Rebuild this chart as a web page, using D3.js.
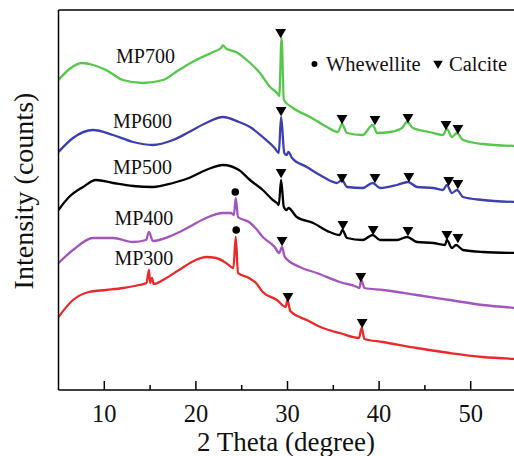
<!DOCTYPE html>
<html>
<head>
<meta charset="utf-8">
<script src="https://cdn.jsdelivr.net/npm/d3@7/dist/d3.min.js"></script>
<style>
  html, body { margin: 0; padding: 0; background: #fff; }
  svg { display: block; }
  text { font-family: "Liberation Serif", "Times New Roman", serif; fill: #111; }
</style>
</head>
<body>
<svg id="chart" width="514" height="456"></svg>
<script>
// XRD patterns: [2θ (degree), intensity (counts, stacked offset)]
const mp700 = [[5.0,310],[6.2,321],[7.57,327],[8.8,325],[10.19,320],[12.04,310],[14.22,307],[16.4,310],[18.15,320],[20.01,330],[21.87,338],[22.74,342],[22.96,344.5],[23.29,341.5],[24.38,338],[25.8,328],[27.0,317],[28.1,303],[28.85,297],[29.1,294],[29.35,352],[29.6,290],[30.6,282],[32.46,273],[34.3,263],[35.5,258],[35.95,266],[36.5,257],[38.2,255],[39.3,265],[39.8,257],[41.2,258],[42.5,262],[43.05,268],[43.7,262],[45.5,258],[46.97,255],[47.4,261],[47.95,253],[48.5,257],[49.16,250],[51.3,246],[55.0,244]];
const mp600 = [[5.0,238],[6.58,252],[8.77,260],[10.95,255],[13.13,248],[15.3,245],[17.5,250],[19.25,258],[21.1,267],[22.96,273],[24.7,268],[25.9,263],[27.3,253],[28.6,242],[29.05,237],[29.3,273],[29.65,237],[29.9,235],[30.1,238],[30.5,232],[32.1,223],[33.9,213],[35.4,207],[35.95,210],[36.5,203],[38.2,202],[39.3,207],[40.1,202],[41.95,205],[43.15,208],[44.15,203],[45.9,202],[46.97,200],[47.4,205],[47.95,197],[48.5,200],[49.16,193],[51.3,190],[55.0,188]];
const mp500 = [[5.0,180],[6.15,193],[7.67,203],[9.09,210],[10.95,207],[13.13,204],[15.3,203],[17.5,207],[19.25,212],[21.1,220],[22.96,225],[24.7,220],[25.9,210],[27.3,200],[28.4,190],[28.85,187],[29.05,185],[29.3,210],[29.6,183],[29.9,180],[30.1,182],[31.0,173],[32.8,167],[34.6,158],[35.7,155],[36.0,160],[36.5,152],[38.2,150],[39.3,155],[40.1,150],[41.95,150],[43.05,153],[44.15,148],[45.9,147],[47.2,145],[47.4,150],[47.95,142],[48.4,145],[49.16,140],[51.3,138],[55.0,137]];
const mp400 = [[5.0,127],[6.58,140],[8.77,152],[10.95,152],[13.13,148],[14.55,150],[14.88,158],[15.3,149],[17.5,155],[19.25,163],[21.1,172],[22.96,177],[23.83,177],[24.15,175],[24.35,192],[24.6,173],[25.8,168],[26.5,162],[27.3,153],[28.6,143],[29.1,137],[29.4,143],[29.7,133],[31.35,123],[33.2,117],[35.7,108],[37.6,103],[37.85,102],[38.05,110],[38.4,102],[40.4,100],[44.1,95],[47.7,90],[51.3,85],[55.0,82]];
const mp300 = [[5.0,73],[6.58,90],[8.33,98],[10.19,100],[12.04,102],[13.79,105],[14.6,107],[14.88,120],[15.0,107],[15.2,112],[15.4,106],[16.4,110],[18.15,120],[20.0,130],[21.1,133],[22.2,132],[23.3,127],[24.1,122],[24.35,153],[24.6,117],[25.8,112],[26.56,107],[27.3,98],[28.85,90],[29.8,83],[30.0,90],[30.3,79],[32.1,70],[33.85,62],[35.7,57],[37.8,52],[38.1,62],[38.4,51],[40.4,48],[44.1,42],[47.7,37],[51.3,33],[55.0,31]];

const seriesNames = ["MP700", "MP600", "MP500", "MP400", "MP300"];
const seriesColors = ["#55c84b", "#3b3fb0", "#000000", "#a355bd", "#ea2a2a"];
// label anchors [2θ, intensity]
const labelPos = [[11.28,327],[10.95,262],[10.95,216],[11.1,165],[11.1,125]];

// peak markers [2θ, intensity]
const calciteMarks = [[29.25,358],[35.95,272],[39.55,271],[43.15,273],[47.3,266],[48.6,262],
                      [29.3,280],[35.95,213],[39.55,213],[43.25,214],[47.6,210],[48.6,207],
                      [29.3,218],[36.05,166],[39.35,161],[43.15,160],[47.4,156],[48.6,153],
                      [29.4,150],[38.0,114],
                      [30.05,94],[38.15,68]];
const whewelliteMarks = [[24.3,198],[24.4,160]];

const xTicks = [10, 20, 30, 40, 50];
const xMinorTicks = [15, 25, 35, 45];
const xLabel = "2 Theta (degree)";
const yLabel = "Intensity (counts)";
const legendItems = ["Whewellite", "Calcite"];

(function draw() {
  const svg = d3.select("#chart");
  const W = 514;
  const mLeft = 58.5, mTop = 10, mBottom = 390;

  const x = d3.scaleLinear().domain([5, 55]).range([mLeft, mLeft + 50 * 9.16]);
  const y = d3.scaleLinear().domain([0, 380]).range([mBottom, mTop]);

  svg.append("defs").append("clipPath").attr("id", "plotClip")
    .append("rect").attr("x", mLeft).attr("y", mTop).attr("width", W - mLeft).attr("height", mBottom - mTop);

  // traces
  const line = d3.line().x(d => x(d[0])).y(d => y(d[1])).curve(d3.curveMonotoneX);
  const allSeries = [mp700, mp600, mp500, mp400, mp300];
  const plot = svg.append("g").attr("clip-path", "url(#plotClip)");
  plot.selectAll("path.trace").data(allSeries).join("path")
    .attr("class", "trace")
    .attr("d", line)
    .attr("fill", "none")
    .attr("stroke", (d, i) => seriesColors[i])
    .attr("stroke-width", 2.3)
    .attr("stroke-linejoin", "round");

  // series labels
  svg.selectAll("text.series").data(seriesNames).join("text")
    .attr("class", "series")
    .attr("x", (d, i) => x(labelPos[i][0]))
    .attr("y", (d, i) => y(labelPos[i][1]))
    .attr("font-size", 20)
    .text(d => d);

  // peak markers
  const tri = d3.symbol().type(d3.symbolTriangle).size(50);
  svg.selectAll("path.calcite").data(calciteMarks).join("path")
    .attr("class", "calcite")
    .attr("d", tri)
    .attr("transform", d => `translate(${x(d[0])},${y(d[1])}) rotate(180)`)
    .attr("fill", "#000");
  svg.selectAll("circle.whew").data(whewelliteMarks).join("circle")
    .attr("class", "whew")
    .attr("cx", d => x(d[0])).attr("cy", d => y(d[1]))
    .attr("r", 3.8).attr("fill", "#000");

  // legend
  const lg = svg.append("g");
  lg.append("circle").attr("cx", 314.5).attr("cy", 64).attr("r", 3).attr("fill", "#000");
  lg.append("text").attr("x", 326).attr("y", 70.5).attr("font-size", 20.5).text(legendItems[0]);
  lg.append("path").attr("d", d3.symbol().type(d3.symbolTriangle).size(40))
    .attr("transform", "translate(438,63.5) rotate(180)").attr("fill", "#000");
  lg.append("text").attr("x", 449).attr("y", 70.5).attr("font-size", 20.5).text(legendItems[1]);

  // frame
  const frame = svg.append("g").attr("stroke", "#000").attr("stroke-width", 1.5).attr("fill", "none");
  frame.append("line").attr("x1", mLeft).attr("x2", W).attr("y1", mTop).attr("y2", mTop);
  frame.append("line").attr("x1", mLeft).attr("x2", mLeft).attr("y1", mTop).attr("y2", mBottom);

  // x axis with inward ticks
  const xAxis = svg.append("g").attr("transform", `translate(0,${mBottom})`);
  xAxis.append("line").attr("x1", mLeft).attr("x2", W).attr("stroke", "#000").attr("stroke-width", 1.5);
  xAxis.selectAll("line.major").data(xTicks).join("line").attr("class", "major")
    .attr("x1", d => x(d)).attr("x2", d => x(d)).attr("y1", 0).attr("y2", -9)
    .attr("stroke", "#000").attr("stroke-width", 1.5);
  xAxis.selectAll("line.minor").data(xMinorTicks).join("line").attr("class", "minor")
    .attr("x1", d => x(d)).attr("x2", d => x(d)).attr("y1", 0).attr("y2", -5)
    .attr("stroke", "#000").attr("stroke-width", 1.5);
  xAxis.selectAll("text.tick").data(xTicks).join("text").attr("class", "tick")
    .attr("x", d => x(d)).attr("y", 32).attr("text-anchor", "middle")
    .attr("font-size", 24.5).text(d => d);

  svg.append("text").attr("x", 286).attr("y", 451).attr("text-anchor", "middle")
    .attr("font-size", 27).text(xLabel);
  svg.append("text").attr("transform", "translate(33,191) rotate(-90)")
    .attr("text-anchor", "middle").attr("font-size", 28).text(yLabel);
})();
</script>
</body>
</html>
